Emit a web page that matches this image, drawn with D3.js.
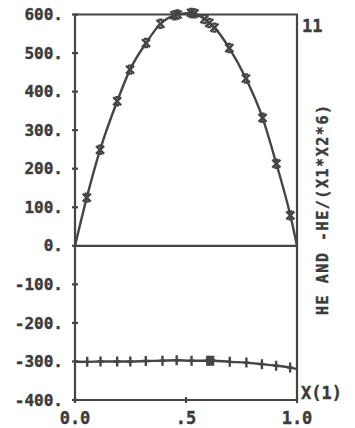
<!DOCTYPE html>
<html>
<head>
<meta charset="utf-8">
<script src="https://cdn.jsdelivr.net/npm/d3@7"></script>
<style>
  body { margin: 0; background: #fff; }
  text { font-family: "DejaVu Sans Mono", monospace; font-weight: bold; fill: #3c3c3c; }
</style>
</head>
<body>
<svg id="chart" width="355" height="428"></svg>
<script>
// HE curve (upper, x markers)
const heX = [0.053, 0.113, 0.19, 0.248, 0.32, 0.385, 0.448, 0.462, 0.523, 0.538, 0.583, 0.605, 0.628, 0.695, 0.77, 0.845, 0.907, 0.97]
const heY = [125, 249, 375, 457, 526, 576, 598, 600, 604, 603, 588, 578, 566, 513, 434, 332, 213, 79]
// -HE/(X1*X2*6) curve (lower, + markers)
const redX = [0.055, 0.115, 0.19, 0.249, 0.319, 0.394, 0.458, 0.525, 0.596, 0.603, 0.612, 0.622, 0.697, 0.772, 0.842, 0.906, 0.969]
const redY = [-301, -300, -300, -300, -299, -298, -297, -298, -298, -298, -298, -298, -301, -303, -307, -311, -316]
// curve end points (no markers)
const heEnds = [[0, 0], [1, 0]]
const redEnds = [[0, -300], [1, -320]]

const yTicks = [600, 500, 400, 300, 200, 100, 0, -100, -200, -300, -400]
const xTicks = [0, 0.5, 1]
const xTickLabels = ['0.0', '.5', '1.0']

const ink = '#454545'
const svg = d3.select('#chart')

const x = d3.scaleLinear().domain([0, 1]).range([75, 297])
const y = d3.scaleLinear().domain([-400, 600]).range([400, 14.5])

/**
 * build sorted point list with end points
 */
const points = (xs, ys, ends) =>
    [ends[0]].concat(xs.map((v, i) => [v, ys[i]])).concat([ends[1]])

// frame: left axis, top, right axis, bottom, zero line
const frame = svg.append('g').attr('stroke', ink).attr('stroke-width', 2.2).attr('fill', 'none')
frame.append('path')
    .attr('d', `M${x(0)},${y(-400)}V${y(600)}H${x(1)}V${y(-400)}H${x(0)}`)
frame.append('line')
    .attr('x1', x(0)).attr('x2', x(1))
    .attr('y1', y(0)).attr('y2', y(0))

// y axis ticks and labels
const yAxis = d3.axisLeft(y).tickValues(yTicks).tickSize(0).tickPadding(12)
    .tickFormat(d => d + '.')
const ya = svg.append('g').attr('transform', `translate(${x(0)},0)`).call(yAxis)
ya.select('.domain').remove()
ya.selectAll('text').style('font-size', '16px').attr('fill', '#3c3c3c')
    .style('stroke', '#3c3c3c').style('stroke-width', 0.4)
svg.append('g').selectAll('line')
    .data(yTicks)
    .enter()
    .append('line')
        .attr('x1', x(0) - 3).attr('x2', x(0) + 3)
        .attr('y1', d => y(d)).attr('y2', d => y(d))
        .attr('stroke', ink).attr('stroke-width', 2.2)

// x axis ticks and labels
svg.append('g').selectAll('line')
    .data(xTicks)
    .enter()
    .append('line')
        .attr('x1', d => x(d)).attr('x2', d => x(d))
        .attr('y1', y(-400) - 3).attr('y2', y(-400) + 3)
        .attr('stroke', ink).attr('stroke-width', 2.2)
svg.append('g').selectAll('text')
    .data(xTicks)
    .enter()
    .append('text')
        .attr('x', d => x(d))
        .attr('y', 424)
        .attr('text-anchor', 'middle')
        .style('font-size', '17px')
        .style('stroke', '#3c3c3c').style('stroke-width', 0.4)
        .text((d, i) => xTickLabels[i])

// curves
const line = d3.line().x(d => x(d[0])).y(d => y(d[1])).curve(d3.curveMonotoneX)
svg.append('path')
    .datum(points(heX, heY, heEnds))
    .attr('d', line)
    .attr('fill', 'none').attr('stroke', ink).attr('stroke-width', 2.4)
svg.append('path')
    .datum(points(redX, redY, redEnds))
    .attr('d', line)
    .attr('fill', 'none').attr('stroke', ink).attr('stroke-width', 2.4)

// x markers on HE
const s = 4
svg.append('g').selectAll('path')
    .data(heX.map((v, i) => [v, heY[i]]))
    .enter()
    .append('path')
        .attr('transform', d => `translate(${x(d[0])},${y(d[1])})`)
        .attr('d', `M${-s},${-s}L${s},${s}M${s},${-s}L${-s},${s}M${-s / 2},${-s}H${s / 2}M${-s / 2},${s}H${s / 2}`)
        .attr('stroke', ink).attr('stroke-width', 2.4).attr('fill', 'none')

// + markers on lower curve
svg.append('g').selectAll('path')
    .data(redX.map((v, i) => [v, redY[i]]))
    .enter()
    .append('path')
        .attr('transform', d => `translate(${x(d[0])},${y(d[1])})`)
        .attr('d', 'M0,-5V5M-3,0H3')
        .attr('stroke', ink).attr('stroke-width', 2.4).attr('fill', 'none')

// right side texts
const side = svg.append('g')
    .style('stroke', '#3c3c3c').style('stroke-width', 0.4)
side.append('text').attr('x', 302).attr('y', 32).style('font-size', '17px').text('11')
side.append('text').attr('x', 301).attr('y', 399).style('font-size', '17px').text('X(1)')
side.append('text')
    .attr('transform', 'translate(328,210) rotate(-90)')
    .attr('text-anchor', 'middle')
    .attr('textLength', 210)
    .attr('lengthAdjust', 'spacing')
    .style('font-size', '15px')
    .text('HE AND -HE/(X1*X2*6)')
</script>
</body>
</html>
